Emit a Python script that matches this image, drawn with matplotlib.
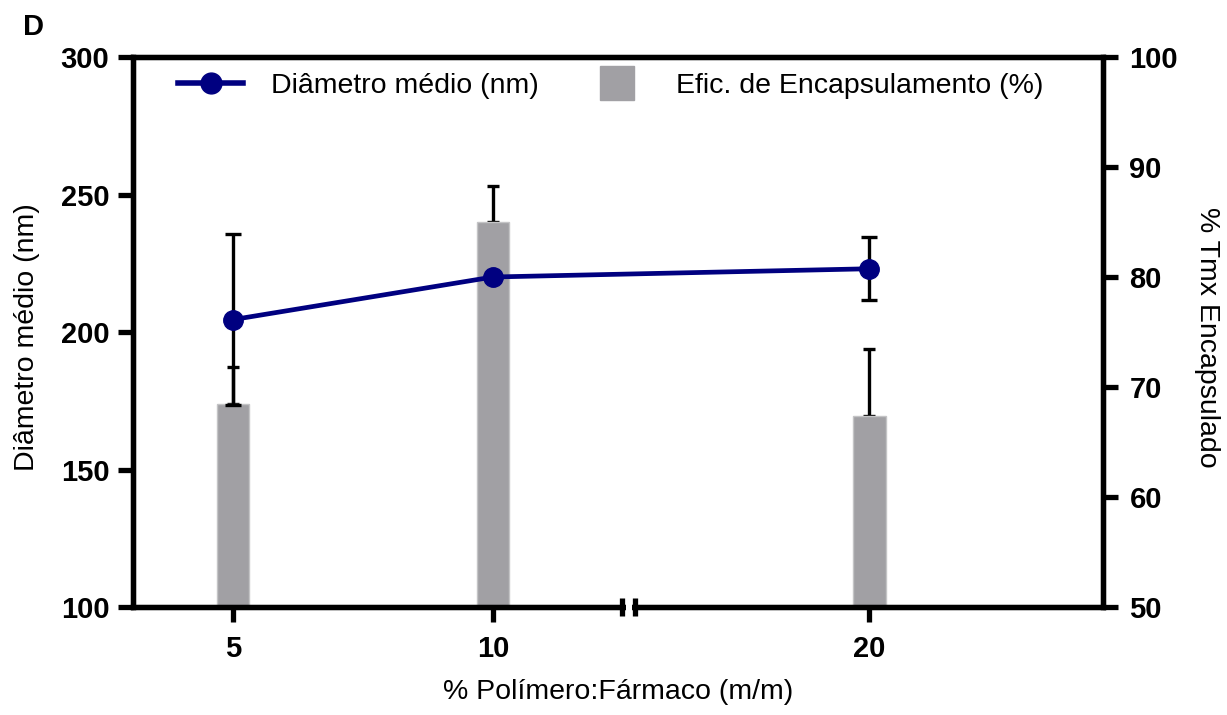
import numpy as np
import matplotlib
matplotlib.use("Agg")
import matplotlib.pyplot as plt
from matplotlib.lines import Line2D

# data
ratio = [5, 10, 20]                      # % polímero:fármaco (m/m)
diam = [204.5, 220.0, 223.0]             # diâmetro médio (nm)
diam_err = [31.0, 1.5, 11.5]
efic = [68.5, 85.0, 67.4]                # eficiência de encapsulamento (%)
efic_err = [3.3, 3.3, 6.1]
xtick_labels = ["5", "10", "20"]

plt.rcParams['font.family'] = ['Liberation Sans', 'DejaVu Sans']

NAVY = '#000080'
GREY = '#a1a0a4'
LW = 3.8

# broken x axis: the stretch between ~12.5 and ~15.5 is cut out
def _fwd(x):
    x = np.asarray(x, float)
    return np.where(x < 14, x, x - 2.76)

def _inv(t):
    t = np.asarray(t, float)
    return np.where(t < 12.62, t, t + 2.76)

fig = plt.figure(figsize=(12.27, 7.15), dpi=100)
ax = fig.add_axes([133 / 1227, 1 - 607 / 715, 970 / 1227, 550 / 715])
ax.set_xscale('function', functions=(_fwd, _inv))
ax.set_xlim(3.08, 24.49)
ax2 = ax.twinx()
ax.set_zorder(ax2.get_zorder() + 1)
ax.patch.set_visible(False)

# bars (right axis)
ax2.bar(ratio, np.array(efic) - 50, bottom=50, width=0.62, color=GREY,
        edgecolor='#c4c4c6', linewidth=1.0, zorder=2)
ax2.errorbar(ratio, efic, yerr=[[0] * len(efic), efic_err], fmt='none',
             ecolor='k', elinewidth=2.4, capsize=4, capthick=2.4, zorder=1)
ax2.set_ylim(50, 100)
ax2.set_yticks(range(50, 101, 10))

# line (left axis)
ax.errorbar(ratio, diam, yerr=diam_err, fmt='none', ecolor='k',
            elinewidth=2.4, capsize=6, capthick=2.4, zorder=2)
ax.plot(ratio, diam, color=NAVY, lw=3.4, marker='o', ms=14, zorder=3)
ax.set_ylim(100, 300)
ax.set_yticks(range(100, 301, 50))
ax.set_xticks(ratio, labels=xtick_labels)

for a in (ax, ax2):
    for s in a.spines.values():
        s.set_linewidth(LW)
ax.tick_params(axis='y', direction='out', length=11, width=LW, labelsize=21, pad=6)
ax2.tick_params(axis='y', direction='out', length=11, width=LW, labelsize=21, pad=8)
ax.tick_params(axis='x', direction='out', length=11, width=LW, labelsize=21, pad=9)
for t in ax.get_yticklabels() + ax2.get_yticklabels() + ax.get_xticklabels():
    t.set_fontweight('bold')

# axis break marks
tr = ax.get_xaxis_transform()
ax.plot([12.56, 15.44], [0, 0], color='white', lw=6, transform=tr,
        clip_on=False, zorder=5, solid_capstyle='butt')
for xb in (12.49, 15.50):
    ax.plot([xb, xb], [-0.017, 0.017], color='k', lw=LW, transform=tr,
            clip_on=False, zorder=6, solid_capstyle='butt')

ax.set_xlabel('% Polímero:Fármaco (m/m)', fontsize=20.5, labelpad=12)
ax.set_ylabel('Diâmetro médio (nm)', fontsize=20.5)
ax.yaxis.set_label_coords(-0.096, 0.49)
ax2.set_ylabel('% Tmx Encapsulado', fontsize=20.5, rotation=270, labelpad=32)
ax2.yaxis.set_label_coords(1.121, 0.49)

handles = [
    Line2D([], [], color=NAVY, lw=4, marker='o', ms=15),
    Line2D([], [], color=GREY, ls='none', marker='s', ms=25),
]
ax.legend(handles, ['Diâmetro médio (nm)', 'Efic. de Encapsulamento (%)'],
          ncol=2, frameon=False, fontsize=20.5, loc='center left',
          bbox_to_anchor=(178 / 1227, 1 - 86 / 715), bbox_transform=fig.transFigure,
          borderpad=0, borderaxespad=0, handlelength=2.3, handletextpad=0.95,
          columnspacing=1.6)

fig.text(0.019, 0.962, 'D', fontsize=21, fontweight='bold', va='center')

fig.savefig('out.png', dpi=100)
